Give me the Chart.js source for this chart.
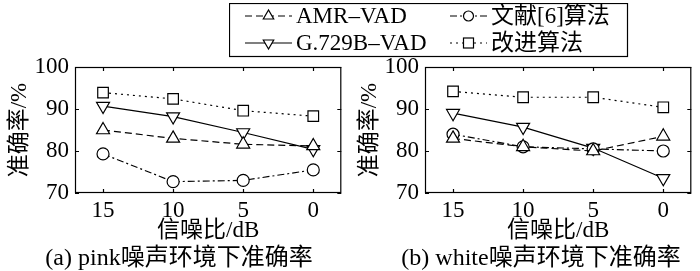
<!DOCTYPE html>
<html>
<head>
<meta charset="utf-8">
<script src="https://cdn.jsdelivr.net/npm/chart.js@4.4.1/dist/chart.umd.min.js"></script>
<style>
body{margin:0;width:700px;height:271px;background:#fff;position:relative;overflow:hidden;
  font-family:"Liberation Serif","Noto Sans CJK SC",serif;color:#000}
canvas{position:absolute;top:0}
#c1{left:0}
#c2{left:350px}
#legend{position:absolute;left:229px;top:3px;z-index:2}
.cap{position:absolute;top:244px;width:358px;text-align:center;font-size:24px;line-height:27px;white-space:nowrap}
</style>
</head>
<body>
<canvas id="c1" width="350" height="271"></canvas>
<canvas id="c2" width="350" height="271"></canvas>
<svg id="legend" width="400" height="55"></svg>
<div class="cap" style="left:0">(a) pink噪声环境下准确率</div>
<div class="cap" style="left:362px">(b) white噪声环境下准确率</div>
<script>
// SNR categories (dB) and accuracy values (%)
const snr = [15, 10, 5, 0];
const yTicks = [70, 80, 90, 100];
const names = ['AMR–VAD', '文献[6]算法', 'G.729B–VAD', '改进算法'];

const pinkAmr  = [85.0, 83.0, 81.6, 81.2];
const pinkLit6 = [79.3, 72.7, 73.0, 75.5];
const pinkG729 = [90.7, 88.2, 84.4, 80.4];
const pinkImpr = [93.9, 92.4, 89.6, 88.3];

const whiteAmr  = [83.0, 81.0, 80.0, 83.5];
const whiteLit6 = [84.0, 81.0, 80.5, 80.0];
const whiteG729 = [89.0, 85.7, 80.7, 73.5];
const whiteImpr = [94.2, 92.8, 92.8, 90.4];

const styles = [
  {dash: [7, 4], point: 'triangle', rot: 0, r: 7.5},
  {dash: [7, 3, 2, 3], point: 'circle', rot: 0, r: 6},
  {dash: [], point: 'triangle', rot: 180, r: 7.5},
  {dash: [2, 4], point: 'rect', rot: 0, r: 7.5}
];

const FONT = '"Liberation Serif","Noto Sans CJK SC",serif';

// box round the plot with inward tick marks
const frame = {
  id: 'frame',
  afterDatasetsDraw(chart) {
    const {ctx, chartArea: a, scales} = chart;
    ctx.save();
    ctx.strokeStyle = '#000';
    ctx.lineWidth = 1.2;
    ctx.setLineDash([]);
    ctx.strokeRect(a.left + 0.5, a.top + 0.5, a.right - a.left - 1, a.bottom - a.top - 1);
    ctx.beginPath();
    snr.forEach(v => {
      const x = Math.round(scales.x.getPixelForValue(v)) + 0.5;
      ctx.moveTo(x, a.bottom); ctx.lineTo(x, a.bottom - 4);
      ctx.moveTo(x, a.top); ctx.lineTo(x, a.top + 4);
    });
    yTicks.forEach(v => {
      const y = Math.round(scales.y.getPixelForValue(v)) + 0.5;
      ctx.moveTo(a.left, y); ctx.lineTo(a.left + 4, y);
      ctx.moveTo(a.right, y); ctx.lineTo(a.right - 4, y);
    });
    ctx.stroke();
    ctx.restore();
  }
};

function makeChart(id, series) {
  const datasets = series.map((vals, i) => ({
    label: names[i],
    data: snr.map((s, j) => ({x: s, y: vals[j]})),
    borderColor: '#000',
    borderWidth: 1.2,
    borderDash: styles[i].dash,
    pointStyle: styles[i].point,
    pointRotation: styles[i].rot,
    pointRadius: styles[i].r,
    pointBackgroundColor: '#fff',
    pointBorderColor: '#000',
    pointBorderWidth: 1.2,
    fill: false,
    tension: 0
  }));
  return new Chart(document.getElementById(id), {
    type: 'line',
    data: {datasets},
    plugins: [frame],
    options: {
      responsive: false,
      animation: false,
      layout: {padding: {top: 67, left: 6, right: 1, bottom: 26}},
      plugins: {legend: {display: false}, tooltip: {enabled: false}},
      scales: {
        x: {
          type: 'linear', reverse: true, min: -2, max: 17,
          afterBuildTicks: s => { s.ticks = snr.map(v => ({value: v})); },
          afterFit: s => { s.height = 52; },
          grid: {display: false, drawTicks: false},
          border: {display: false},
          ticks: {padding: 4, color: '#000', font: {family: FONT, size: 23}, maxRotation: 0},
          title: {display: true, text: '信噪比/dB', color: '#000', padding: 0,
                  font: {family: FONT, size: 23}}
        },
        y: {
          min: 70, max: 100,
          afterBuildTicks: s => { s.ticks = yTicks.map(v => ({value: v})); },
          afterFit: s => { s.width = 69; },
          grid: {display: false, drawTicks: false},
          border: {display: false},
          ticks: {padding: 6, color: '#000', font: {family: FONT, size: 23}},
          title: {display: true, text: '准确率/%', color: '#000', padding: 0,
                  font: {family: FONT, size: 23}}
        }
      }
    }
  });
}

makeChart('c1', [pinkAmr, pinkLit6, pinkG729, pinkImpr]);
makeChart('c2', [whiteAmr, whiteLit6, whiteG729, whiteImpr]);

// shared legend
(function () {
  const svg = document.getElementById('legend');
  const ns = 'http://www.w3.org/2000/svg';
  const el = (tag, attrs, txt) => {
    const e = document.createElementNS(ns, tag);
    for (const k in attrs) e.setAttribute(k, attrs[k]);
    if (txt) e.textContent = txt;
    svg.appendChild(e);
    return e;
  };
  el('rect', {x: 0.5, y: 0.5, width: 398, height: 53, fill: '#fff', stroke: '#000', 'stroke-width': 1.2});
  const cells = [
    {x0: 16, x1: 63, y: 13}, {x0: 221, x1: 258, y: 13},
    {x0: 16, x1: 63, y: 40}, {x0: 221, x1: 258, y: 40}
  ];
  cells.forEach((c, i) => {
    const st = styles[i];
    el('line', {x1: c.x0, y1: c.y, x2: c.x1, y2: c.y, stroke: '#000', 'stroke-width': 1.2,
                'stroke-dasharray': st.dash.length ? st.dash.join(' ') : 'none'});
    const cx = (c.x0 + c.x1) / 2, r = 6;
    if (st.point === 'circle') {
      el('circle', {cx, cy: c.y, r: 5, fill: '#fff', stroke: '#000', 'stroke-width': 1.2});
    } else if (st.point === 'rect') {
      el('rect', {x: cx - 5, y: c.y - 5, width: 10, height: 10, fill: '#fff', stroke: '#000', 'stroke-width': 1.2});
    } else {
      const s = st.rot ? -1 : 1;
      const pts = [[cx, c.y - s * r], [cx - r * 0.87, c.y + s * r / 2], [cx + r * 0.87, c.y + s * r / 2]];
      el('polygon', {points: pts.map(p => p.join(',')).join(' '), fill: '#fff', stroke: '#000', 'stroke-width': 1.2});
    }
    el('text', {x: c.x1 + 4, y: c.y + 7, 'font-size': 23, 'font-family': FONT, fill: '#000'}, names[i]);
  });
})();
</script>
</body>
</html>
